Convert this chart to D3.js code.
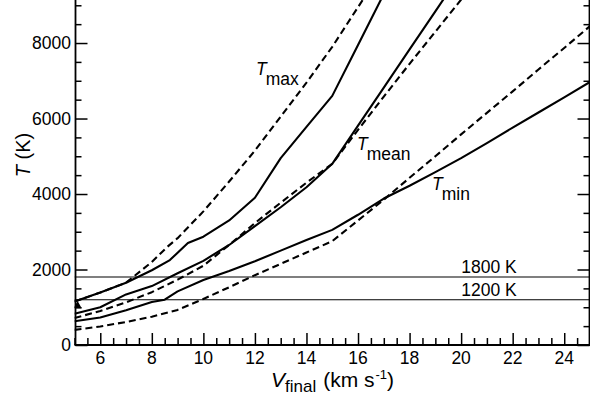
<!DOCTYPE html>
<html><head><meta charset="utf-8">
<script src="https://cdn.jsdelivr.net/npm/d3@7"></script>
<style>
html,body{margin:0;padding:0;background:#fff;}
svg{display:block;font-family:"Liberation Sans",Arial,Helvetica,sans-serif;}
</style></head>
<body>
<svg id="c" width="590" height="397"></svg>
<script>
// ---- data ----
const xTickValues = [6, 8, 10, 12, 14, 16, 18, 20, 22, 24];
const yTickValues = [0, 2000, 4000, 6000, 8000];
const refLevels = [1800, 1200];
const refLabels = ["1800 K", "1200 K"];

const tmaxDashV  = [5, 6, 7, 8, 8.6, 9, 10, 11, 12, 13, 14, 15, 16, 17];
const tmaxDashT  = [1150, 1390, 1650, 2200, 2600, 2830, 3540, 4330, 5150, 6050, 6950, 7900, 8950, 10000];
const tmaxSolidV = [5, 6, 7, 8, 8.7, 9.4, 10, 11, 12, 13, 14, 15, 16, 17];
const tmaxSolidT = [1150, 1390, 1650, 1980, 2250, 2700, 2870, 3300, 3900, 4950, 5780, 6600, 7950, 9300];
const tmeanSolidV = [5, 6, 7, 8, 9, 10, 11, 12, 13, 14, 15, 16, 17, 18, 19, 20];
const tmeanSolidT = [830, 1000, 1340, 1560, 1900, 2230, 2650, 3150, 3650, 4180, 4800, 5810, 6820, 7830, 8840, 9850];
const tmeanDashV = [5, 6, 7, 8, 9, 10, 11, 12, 13, 14, 15, 16, 17, 18, 19, 20, 21];
const tmeanDashT = [715, 900, 1130, 1400, 1730, 2100, 2650, 3230, 3770, 4300, 4800, 5700, 6580, 7450, 8300, 9150, 10000];
const tminSolidV = [5, 6, 7, 8, 8.5, 9, 10, 11, 12, 13, 14, 15, 16, 17, 18, 19, 20, 21, 22, 23, 24, 25];
const tminSolidT = [630, 730, 920, 1140, 1200, 1420, 1720, 1960, 2220, 2500, 2780, 3050, 3450, 3880, 4220, 4580, 4950, 5350, 5760, 6160, 6560, 6970];
const tminDashV = [5, 6, 7, 8, 9, 10, 11, 12, 13, 14, 15, 16, 17, 18, 19, 20, 21, 22, 23, 24, 25];
const tminDashT = [400, 490, 610, 750, 930, 1220, 1530, 1850, 2150, 2450, 2750, 3300, 3850, 4430, 5000, 5580, 6150, 6720, 7300, 7870, 8450];

const series = [
  {v: tmaxDashV,  t: tmaxDashT,  dashed: true},
  {v: tmaxSolidV, t: tmaxSolidT, dashed: false},
  {v: tmeanDashV, t: tmeanDashT, dashed: true},
  {v: tmeanSolidV,t: tmeanSolidT,dashed: false},
  {v: tminDashV,  t: tminDashT,  dashed: true},
  {v: tminSolidV, t: tminSolidT, dashed: false}
];

// ---- layout ----
const L = 74.5, R = 590, B = 345, TOP = 0;
const x = d3.scaleLinear().domain([5, 25]).range([L, R]);
const y = d3.scaleLinear().domain([0, 9140]).range([B, TOP]);
const svg = d3.select("#c");
const FS = 17.5;

svg.append("defs").append("clipPath").attr("id", "clip")
  .append("rect").attr("x", L).attr("y", TOP).attr("width", R - L).attr("height", B - TOP);

const plot = svg.append("g").attr("clip-path", "url(#clip)");

// reference lines
plot.selectAll("line.ref").data(refLevels).enter().append("line")
  .attr("x1", L).attr("x2", R)
  .attr("y1", d => y(d)).attr("y2", d => y(d))
  .attr("stroke", "#000").attr("stroke-width", 1.1);

// curves
const line = d3.line().x(d => x(d[0])).y(d => y(d[1]));
series.forEach(s => {
  plot.append("path")
    .attr("d", line(s.v.map((v, i) => [v, s.t[i]])))
    .attr("fill", "none").attr("stroke", "#000")
    .attr("stroke-width", 2.1)
    .attr("stroke-linejoin", "round")
    .attr("stroke-dasharray", s.dashed ? "7,4" : null);
});

// small marker at the start
plot.append("path")
  .attr("d", d3.symbol().type(d3.symbolTriangle).size(30)())
  .attr("transform", `translate(${x(5.12)},${y(1040)})`)
  .attr("fill", "#000");

// axes
const gx = svg.append("g").attr("transform", `translate(0,${B})`);
gx.call(d3.axisTop(x).tickValues(d3.range(5, 25.01, 0.5)).tickSize(7).tickFormat(""));
gx.call(g => g.selectAll(".tick line").filter(d => d % 2 === 0).attr("y2", -12));
gx.select(".domain").remove();
gx.selectAll("line").attr("stroke", "#000").attr("stroke-width", 1.5);
gx.append("line").attr("x1", L).attr("x2", R).attr("y1", 0).attr("y2", 0)
  .attr("stroke", "#000").attr("stroke-width", 1.8);

const yMinor = d3.range(0, 9140, 500);
const gy = svg.append("g").attr("transform", `translate(${L + 1},0)`);
gy.call(d3.axisRight(y).tickValues(yMinor).tickSize(6).tickFormat(""));
gy.call(g => g.selectAll(".tick line").filter(d => d % 2000 === 0).attr("x2", 12));
gy.select(".domain").remove();
gy.selectAll("line").attr("stroke", "#000").attr("stroke-width", 1.5);
gy.append("line").attr("x1", 0).attr("x2", 0).attr("y1", TOP).attr("y2", B)
  .attr("stroke", "#000").attr("stroke-width", 1.8);

const gr = svg.append("g").attr("transform", `translate(${R - 0.5},0)`);
gr.call(d3.axisLeft(y).tickValues(yMinor).tickSize(6).tickFormat(""));
gr.call(g => g.selectAll(".tick line").filter(d => d % 2000 === 0).attr("x2", -12));
gr.select(".domain").remove();
gr.selectAll("line").attr("stroke", "#000").attr("stroke-width", 1.5);
gr.append("line").attr("x1", 0).attr("x2", 0).attr("y1", TOP).attr("y2", B)
  .attr("stroke", "#000").attr("stroke-width", 1.8);

// tick labels
svg.selectAll("text.xl").data(xTickValues).enter().append("text")
  .attr("class", "xl").attr("fill", "#000")
  .attr("x", d => x(d)).attr("y", B + 18.5).attr("text-anchor", "middle")
  .attr("font-size", FS).text(d => d);
svg.selectAll("text.yl").data(yTickValues).enter().append("text")
  .attr("class", "yl").attr("fill", "#000")
  .attr("x", 71).attr("y", d => y(d)).attr("dy", "0.36em")
  .attr("text-anchor", "end").attr("font-size", FS).text(d => d);

// reference labels
svg.selectAll("text.rl").data(refLevels).enter().append("text")
  .attr("class", "rl").attr("fill", "#000")
  .attr("x", 489).attr("y", d => y(d) - 4).attr("text-anchor", "middle")
  .attr("font-size", FS).text((d, i) => refLabels[i]);

// curve labels
function subLabel(px, py, sub) {
  const t = svg.append("text").attr("x", px).attr("y", py).attr("font-size", FS).attr("fill", "#000");
  t.append("tspan").attr("font-style", "italic").text("T");
  t.append("tspan").attr("dx", -1).attr("dy", 10).text(sub);
}
subLabel(256, 75, "max");
subLabel(357, 150, "mean");
subLabel(432, 190, "min");

// axis titles
const xt = svg.append("text").attr("x", 271).attr("y", 387).attr("font-size", 21).attr("fill", "#000");
xt.append("tspan").attr("font-style", "italic").text("V");
xt.append("tspan").attr("dy", 5).attr("font-size", 17).text("final");
xt.append("tspan").attr("dy", -5).attr("dx", 7).text("(km s");
xt.append("tspan").attr("dy", -8).attr("dx", 1).attr("font-size", 13).text("-1");
xt.append("tspan").attr("dy", 8).text(")");

const yt = svg.append("text").attr("transform", "translate(30,155) rotate(-90)")
  .attr("text-anchor", "middle").attr("font-size", 20).attr("fill", "#000");
yt.append("tspan").attr("font-style", "italic").text("T");
yt.append("tspan").text(" (K)");
</script>
</body></html>
